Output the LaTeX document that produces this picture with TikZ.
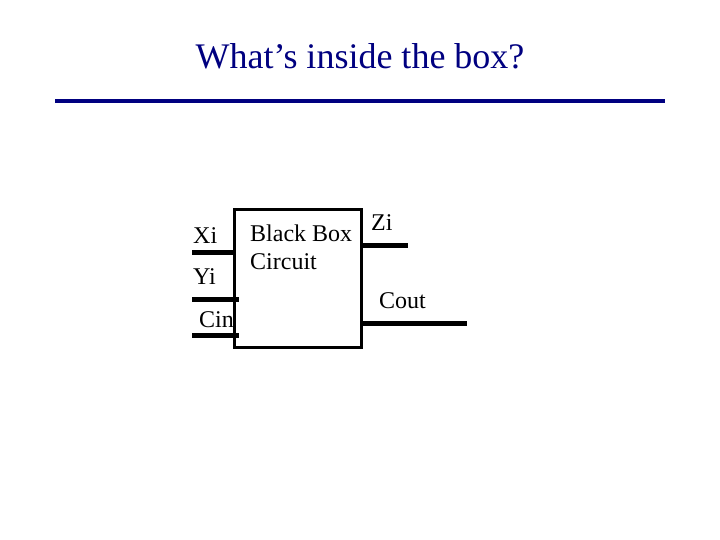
\documentclass[tikz,border=0pt]{standalone}
\usepackage{fontspec}
\setmainfont{Liberation Serif}
\definecolor{navy}{RGB}{0,0,128}
\begin{document}
\begin{tikzpicture}[x=1pt,y=-1pt,
 wire/.style={line width=5pt},
 lbl/.style={inner sep=0pt,font=\fontsize{24}{28}\selectfont}]
\useasboundingbox (0,0) rectangle (720,540);
\node[inner sep=0pt,text=navy,font=\fontsize{36}{40}\selectfont] (title) at (360,56) {What’s inside the box?};
\draw[navy,line width=4.5pt] (55,101) coordinate (l1) -- (665,101) coordinate (l2);
\node[draw,line width=3pt,minimum width=127pt,minimum height=137pt,inner sep=0pt] (box) at (297.5,278.5) {};
\coordinate (xi) at (192,252); \coordinate (yi) at (192,299); \coordinate (ci) at (192,335);
\draw[wire] (xi) -- (xi -| box.west);
\draw[wire] (yi) -- ++(47,0);
\draw[wire] (ci) -- ++(47,0);
\coordinate (zo) at (408,245); \coordinate (co) at (467,323);
\draw[wire] (box.east |- zo) -- (zo);
\draw[wire] (box.east |- co) -- (co);
\node[lbl,anchor=west] (xl) at (193,236) {Xi};
\node[lbl,anchor=west] (yl) at (193,277) {Yi};
\node[lbl,anchor=west] (cl) at (199,320) {Cin};
\node[lbl,anchor=north west,align=left] (bb) at (250,225) {Black Box\\Circuit};
\node[lbl,anchor=west] (zl) at (371,223) {Zi};
\node[lbl,anchor=west] (col) at (379,301) {Cout};
\end{tikzpicture}
\end{document}
